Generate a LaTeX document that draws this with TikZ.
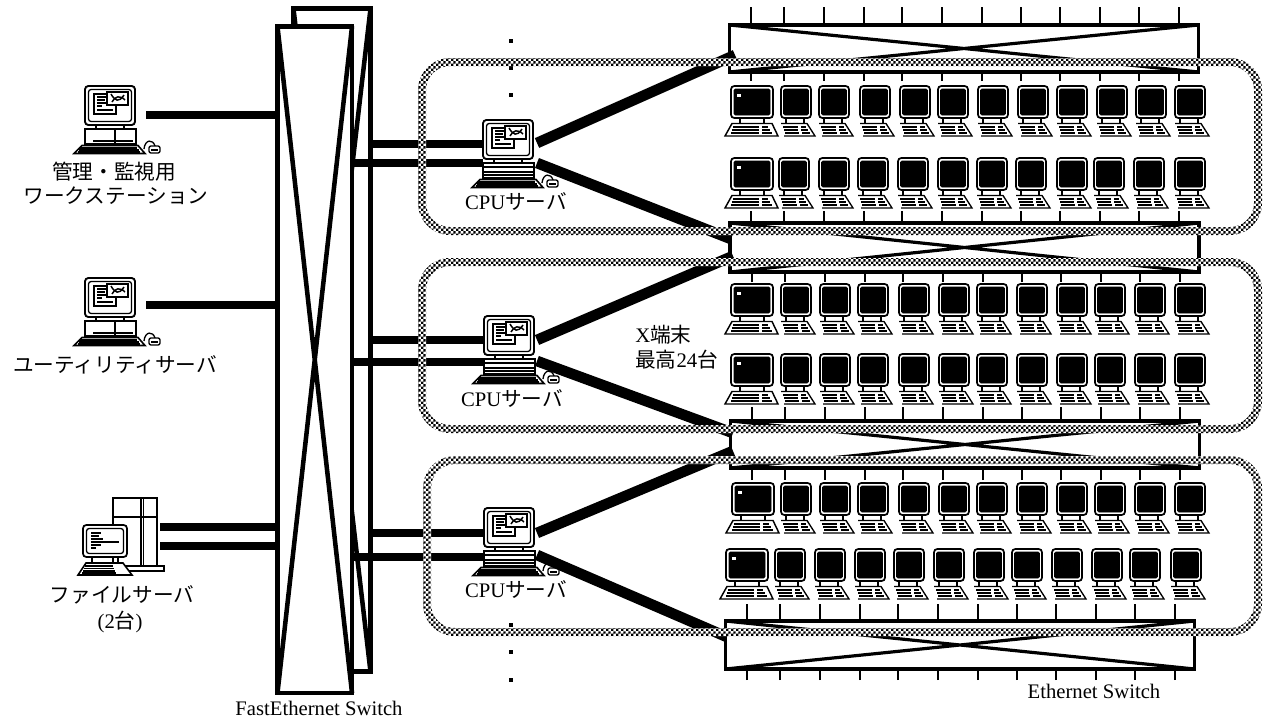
\documentclass[tikz,border=0pt]{standalone}
\usepackage{fontspec}
\usetikzlibrary{patterns}
\setmainfont{Liberation Serif}
\newfontfamily\cjk{Noto Sans CJK JP}
\newcommand\txtsize{\fontsize{15.5}{18}\selectfont}
\pgfdeclarepatternformonly{chk}{\pgfpointorigin}{\pgfqpoint{4pt}{4pt}}{\pgfqpoint{4pt}{4pt}}{%
  \pgfpathrectangle{\pgfpointorigin}{\pgfqpoint{2pt}{2pt}}%
  \pgfpathrectangle{\pgfqpoint{2pt}{2pt}}{\pgfqpoint{2pt}{2pt}}%
  \pgfusepath{fill}}
\newcommand\monA{%
  \draw[line width=1.4pt,rounded corners=2.5pt,fill=white] (0,0) rectangle (50,39);
  \draw[line width=1pt,rounded corners=2pt] (3.5,3.5) rectangle (46.5,35.5);
  \draw[line width=.9pt,fill=white] (9,8) rectangle (31,28);
  \draw[line width=.9pt] (12,11) -- (22,11) (12,14) -- (20,14) (12,17) -- (22,17) (12,20) -- (17,20) (12,24) -- (28,24);
  \draw[line width=1.4pt,fill=white] (22,6) rectangle (43,19);
  \draw[line width=1.1pt] (26,8) .. controls (30,15) and (34,17) .. (39,9) (27,16) .. controls (30,10) and (35,9) .. (40,14);
  \draw[line width=1pt] (11,39) -- (11,43) (39,39) -- (39,43);
}
\newcommand\kbA{%
  \draw[line width=1.2pt,fill=white] (-11,67.5) -- (-3,59.5) -- (53,59.5) -- (60,67.5) -- cycle;
  \draw[line width=.9pt] (-5,62) -- (52,62) (-6,64) -- (54,64) (-7,66) -- (55,66);
  \draw[line width=1pt] (59,63) .. controls (60,53) and (68,53) .. (70,60);
  \draw[line width=1pt,fill=white,rounded corners=1.5pt] (64,67) rectangle (75,60);
  \draw[line width=.8pt] (66,64) -- (73,64);
}
\tikzset{
  wstation/.pic={\monA
    \draw[line width=1.1pt,fill=white] (0,43) rectangle (51,58);
    \draw[line width=1pt] (30,43) -- (30,58);
    \draw[line width=1pt] (8,55) -- (48,55);
    \kbA},
  cpubox/.pic={\monA
    \draw[line width=1.1pt,fill=white] (0,43) rectangle (51,58);
    \draw[line width=1pt] (0,47) -- (51,47) (0,52) -- (51,52) (0,55) -- (51,55);
    \kbA},
  termw/.pic={
    \draw[line width=1.3pt,rounded corners=2.5pt,fill=white] (0,0) rectangle (42,32);
    \draw[fill=black,rounded corners=1pt] (3,3) rectangle (39,29);
    \fill[white] (6,8) rectangle (10,11);
    \draw[line width=.9pt] (9,32) -- (9,37) (33,32) -- (33,37);
    \draw[line width=1.1pt,fill=white] (-6,50) -- (1,37.5) -- (41,37.5) -- (47,50) -- cycle;
    \draw[line width=1.2pt] (2,41) -- (28,41) (1,44) -- (28,44) (0,47) -- (28,47) (31,41) -- (37,41) (31,44) -- (39,44) (31,47) -- (41,47);
  },
  termn/.pic={
    \draw[line width=1.3pt,rounded corners=2.5pt,fill=white] (0,0) rectangle (30,32);
    \draw[fill=black,rounded corners=1pt] (2.5,3) rectangle (27.5,29);
    \draw[line width=.9pt] (5,32) -- (5,37) (23,32) -- (23,37);
    \draw[line width=1pt] (0,37.5) -- (26,37.5) -- (34,50) -- (3,50);
    \draw[line width=1.2pt] (2,41) -- (17,41) (3,44) -- (17,44) (4,47) -- (18,47) (20,41) -- (25,41) (20,44) -- (27,44) (21,47) -- (29,47);
  },
  filesrv/.pic={
    \draw[line width=1pt,fill=white] (30,0) rectangle (74,68);
    \draw[line width=1pt] (30,19) -- (74,19) (58,0) -- (58,68) (60.5,0) -- (60.5,68);
    \draw[line width=1pt,fill=white] (30,68) rectangle (81,73);
    \draw[line width=1.3pt,rounded corners=2.5pt,fill=white] (0,27) rectangle (44,59);
    \draw[line width=1pt,rounded corners=2pt] (3.5,30.5) rectangle (40.5,55.5);
    \draw[line width=.9pt] (8,35) -- (18,35) (8,38) -- (16,38) (8,41) -- (20,41) (8,44) -- (36,44) (8,47) -- (18,47) (8,50) -- (13,50);
    \draw[line width=1pt] (9,59) -- (9,65) (35,59) -- (35,65);
    \draw[line width=1.2pt,fill=white] (-5,77) -- (3,65) -- (40,65) -- (49,77) -- cycle;
    \draw[line width=.9pt] (2,68) -- (30,68) (1,70.5) -- (31,70.5) (0,73) -- (32,73) (-1,75) -- (33,75);
  },
  fesw/.style={draw,fill=white,line width=3.7pt,inner sep=0pt,outer sep=0pt},
  ethsw/.style={draw,fill=white,line width=2.4pt,inner sep=0pt,outer sep=0pt},
  crossline/.style={line width=3.4pt},
  ecross/.style={line width=2.4pt},
  link/.style={line width=6pt},
  wedge/.style={line width=8pt},
  tickline/.style={line width=1.5pt},
  lab/.style={inner sep=0pt,font=\txtsize},
  dotmark/.style={fill=black,minimum size=3pt,inner sep=0pt,outer sep=0pt},
}
\newcommand\band[4]{%
  \fill[white,even odd rule] ({#1-4},{#2-4}) [rounded corners=24pt] rectangle ({#3+4},{#4+4})
     ({#1+4},{#2+4}) [rounded corners=18pt] rectangle ({#3-4},{#4-4});
  \fill[pattern=chk,even odd rule] ({#1-4},{#2-4}) [rounded corners=24pt] rectangle ({#3+4},{#4+4})
     ({#1+4},{#2+4}) [rounded corners=18pt] rectangle ({#3-4},{#4-4});
}
\newcommand\termrow[3]{%
  \pic at (#2,#1) {termw};
  \foreach \c in {#3} {\pic at ({\c-15},#1) {termn};}
}
\begin{document}
\begin{tikzpicture}[x=0.75pt,y=-0.75pt]
\useasboundingbox[fill=white] (0,0) rectangle (1265,721);

% FastEthernet switches
\node[fesw,minimum width=57.75pt,minimum height=497.25pt] (feb) at (332,340.25) {};
\draw[crossline] (feb.north west) -- (feb.south east) (feb.north east) -- (feb.south west);
\node[fesw,minimum width=55.9pt,minimum height=499.9pt] (fef) at (314.75,359.75) {};
\draw[crossline] (fef.north west) -- (fef.south east) (fef.north east) -- (fef.south west);

% Ethernet switches
\node[ethsw,minimum width=351.75pt,minimum height=35.25pt] (sa) at (964,48.5) {};
\node[ethsw,minimum width=351.75pt,minimum height=36.75pt] (sb) at (964.5,247.5) {};
\node[ethsw,minimum width=351.75pt,minimum height=35.25pt] (sc) at (965,444.5) {};
\node[ethsw,minimum width=351.75pt,minimum height=36pt] (sd) at (960,645) {};
\foreach \s in {sa,sb,sc,sd} {\draw[ecross] (\s.north west) -- (\s.south east) (\s.north east) -- (\s.south west);}

% ticks
\foreach \x in {750.5,784,824,864,902,942,982,1021,1060,1100,1139,1179} {
  \coordinate (ta) at (\x,7);  \draw[tickline] (ta) -- (ta |- sa.north);
  \coordinate (tb) at (\x,81); \draw[tickline] (tb) -- (tb |- sa.south);
  \coordinate (tc) at (\x,211); \draw[tickline] (tc) -- (tc |- sb.north);
  \coordinate (td) at ({\x+1},282); \draw[tickline] (td) -- (td |- sb.south);
  \coordinate (te) at ({\x+1},407); \draw[tickline] (te) -- (te |- sc.north);
  \coordinate (tf) at ({\x+1},480); \draw[tickline] (tf) -- (tf |- sc.south);
  \coordinate (tg) at ({\x-4},604); \draw[tickline] (tg) -- (tg |- sd.north);
  \coordinate (th) at ({\x-4},680); \draw[tickline] (th) -- (th |- sd.south);
}

% terminals
\termrow{86}{731}{796,834,875,915,953,993,1033,1072,1112,1151,1190}
\termrow{158}{731}{794,834,873,913,953,992,1031,1072,1109,1149,1190}
\termrow{284}{731}{796,835,873,914,954,992,1032,1072,1110,1150,1190}
\termrow{354}{731}{796,835,873,914,954,992,1032,1072,1110,1150,1190}
\termrow{483}{732}{796,835,873,914,954,992,1032,1072,1110,1150,1190}
\termrow{549}{726}{790,830,870,909,949,989,1027,1067,1107,1145,1186}

% computers
\pic at (85,86) {wstation};
\pic at (85,278) {wstation};
\pic at (83,498) {filesrv};
\pic at (483,120) {cpubox};
\pic at (484,316) {cpubox};
\pic at (484,508) {cpubox};

% connector ends
\coordinate (wsp) at (146,115);
\coordinate (utp) at (146,305);
\coordinate (fap) at (160,527);
\coordinate (fbp) at (160,546);
\coordinate (c1a) at (483,144); \coordinate (c1b) at (483,163);
\coordinate (c2a) at (484,340); \coordinate (c2b) at (484,362);
\coordinate (c3a) at (484,533); \coordinate (c3b) at (484,557);
\coordinate (o1a) at (537,143); \coordinate (o1b) at (537,163);
\coordinate (o2a) at (537,340); \coordinate (o2b) at (537,361);
\coordinate (o3a) at (537,533); \coordinate (o3b) at (537,555);
\coordinate (i1a) at (735,55);  \coordinate (i1b) at (731,239);
\coordinate (i2a) at (733,256); \coordinate (i2b) at (733,433);
\coordinate (i3a) at (733,451); \coordinate (i3b) at (727,637);

\draw[link] (wsp) -- (wsp -| fef.west);
\draw[link] (utp) -- (utp -| fef.west);
\draw[link] (fap) -- (fap -| fef.west);
\draw[link] (fbp) -- (fbp -| fef.west);
\draw[link] (c1a -| feb.east) -- (c1a);
\draw[link] (c1b -| fef.east) -- (c1b);
\draw[link] (c2a -| feb.east) -- (c2a);
\draw[link] (c2b -| fef.east) -- (c2b);
\draw[link] (c3a -| feb.east) -- (c3a);
\draw[link] (c3b -| fef.east) -- (c3b);
\draw[wedge] (o1a) -- (i1a);
\draw[wedge] (o1b) -- (i1b);
\draw[wedge] (o2a) -- (i2a);
\draw[wedge] (o2b) -- (i2b);
\draw[wedge] (o3a) -- (i3a);
\draw[wedge] (o3b) -- (i3b);

% dots
\foreach \n/\y in {a/41,b/68,c/95,d/625,e/652,f/680} {\node[dotmark] (dot\n) at (511,\y) {};}

% bands
\band{422}{62}{1258}{231}
\band{422}{262}{1258}{429}
\band{427}{460}{1258}{632}

% labels
\node[lab] (l1) at (114,172) {\cjk 管理・監視用};
\node[lab] (l2) at (116,196) {\cjk ワークステーション};
\node[lab] (l3) at (115,365) {\cjk ユーティリティサーバ};
\node[lab] (l4) at (122,595) {\cjk ファイルサーバ};
\node[lab] (l5) at (120,622) {(2{\cjk 台})};
\node[lab] (l6) at (516,202) {CPU{\cjk サーバ}};
\node[lab] (l7) at (512,399) {CPU{\cjk サーバ}};
\node[lab] (l8) at (516,590) {CPU{\cjk サーバ}};
\node[lab,anchor=west] (l9) at (635,335) {X{\cjk 端末}};
\node[lab,anchor=west] (l10) at (635,360) {{\cjk 最高}24{\cjk 台}};
\node[lab] (l11) at (319,708) {FastEthernet Switch};
\node[lab] (l12) at (1094,691) {Ethernet Switch};
\end{tikzpicture}
\end{document}
